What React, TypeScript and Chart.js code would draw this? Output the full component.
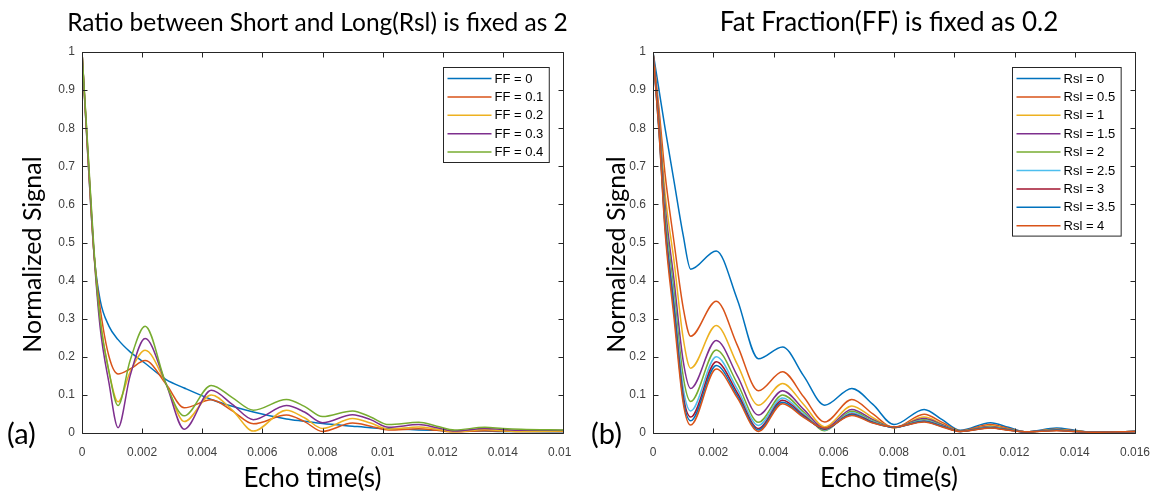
import React, { useEffect, useRef } from "react";
import { Chart, registerables } from "chart.js";

Chart.register(...registerables);

// ---------- data ----------
const LEFT_T = [0, 0.0002, 0.0004, 0.0006, 0.0009, 0.0012, 0.0016, 0.0021, 0.0028, 0.0034, 0.0043, 0.005, 0.0057, 0.0068, 0.0074, 0.008, 0.009, 0.0096, 0.0102, 0.0112, 0.0118, 0.0124, 0.0134, 0.014, 0.0146, 0.016];
const FF_0 = [1, 0.72, 0.47, 0.35, 0.28, 0.245, 0.213, 0.183, 0.14, 0.118, 0.088, 0.07, 0.055, 0.037, 0.031, 0.025, 0.018, 0.014, 0.011, 0.008, 0.007, 0.006, 0.005, 0.004, 0.004, 0.003];
const FF_01 = [1, 0.72, 0.47, 0.33, 0.2, 0.155, 0.168, 0.19, 0.128, 0.066, 0.087, 0.058, 0.024, 0.047, 0.03, 0.004, 0.026, 0.018, 0.008, 0.011, 0.007, 0.003, 0.006, 0.005, 0.004, 0.004];
const FF_02 = [1, 0.73, 0.47, 0.3, 0.16, 0.082, 0.16, 0.217, 0.128, 0.03, 0.1, 0.06, 0.005, 0.06, 0.04, 0.012, 0.038, 0.026, 0.01, 0.016, 0.01, 0.003, 0.009, 0.006, 0.004, 0.005];
const FF_03 = [1, 0.73, 0.47, 0.28, 0.13, 0.014, 0.15, 0.248, 0.128, 0.01, 0.112, 0.075, 0.035, 0.072, 0.055, 0.027, 0.048, 0.035, 0.015, 0.022, 0.014, 0.005, 0.012, 0.009, 0.007, 0.007];
const FF_04 = [1, 0.74, 0.48, 0.3, 0.16, 0.072, 0.19, 0.28, 0.128, 0.045, 0.125, 0.093, 0.06, 0.088, 0.07, 0.043, 0.058, 0.042, 0.022, 0.028, 0.018, 0.008, 0.015, 0.012, 0.01, 0.008];
const LEFT_LABELS = ["FF = 0", "FF = 0.1", "FF = 0.2", "FF = 0.3", "FF = 0.4"];

const RIGHT_T = [0, 0.0002, 0.0004, 0.0007, 0.001, 0.00125, 0.0021, 0.0028, 0.0035, 0.0043, 0.005, 0.0057, 0.0066, 0.0073, 0.008, 0.009, 0.0096, 0.0102, 0.0112, 0.0118, 0.0124, 0.0134, 0.014, 0.0146, 0.016];
const RSL_0 = [1, 0.9, 0.8, 0.66, 0.52, 0.43, 0.478, 0.35, 0.195, 0.226, 0.15, 0.073, 0.117, 0.075, 0.022, 0.062, 0.035, 0.007, 0.027, 0.015, 0.003, 0.013, 0.007, 0.002, 0.004];
const RSL_05 = [1, 0.85, 0.68, 0.5, 0.33, 0.254, 0.346, 0.23, 0.111, 0.161, 0.095, 0.029, 0.088, 0.05, 0.013, 0.049, 0.028, 0.006, 0.022, 0.012, 0.003, 0.01, 0.006, 0.002, 0.004];
const RSL_1 = [1, 0.83, 0.63, 0.45, 0.25, 0.17, 0.282, 0.18, 0.073, 0.13, 0.075, 0.016, 0.071, 0.04, 0.014, 0.042, 0.024, 0.005, 0.019, 0.01, 0.003, 0.009, 0.005, 0.002, 0.004];
const RSL_15 = [1, 0.82, 0.6, 0.4, 0.19, 0.117, 0.243, 0.15, 0.047, 0.111, 0.062, 0.012, 0.062, 0.035, 0.015, 0.038, 0.022, 0.005, 0.017, 0.009, 0.003, 0.008, 0.005, 0.002, 0.004];
const RSL_2 = [1, 0.81, 0.58, 0.37, 0.15, 0.083, 0.218, 0.13, 0.028, 0.1, 0.055, 0.006, 0.057, 0.032, 0.015, 0.035, 0.02, 0.005, 0.016, 0.009, 0.003, 0.008, 0.005, 0.002, 0.004];
const RSL_25 = [1, 0.8, 0.56, 0.35, 0.12, 0.058, 0.2, 0.115, 0.02, 0.092, 0.05, 0.008, 0.053, 0.03, 0.015, 0.033, 0.019, 0.004, 0.015, 0.008, 0.003, 0.007, 0.004, 0.002, 0.004];
const RSL_3 = [1, 0.8, 0.55, 0.33, 0.1, 0.042, 0.187, 0.105, 0.012, 0.086, 0.046, 0.01, 0.05, 0.028, 0.015, 0.031, 0.018, 0.004, 0.014, 0.008, 0.003, 0.007, 0.004, 0.002, 0.004];
const RSL_35 = [1, 0.79, 0.54, 0.32, 0.09, 0.032, 0.177, 0.098, 0.008, 0.081, 0.043, 0.012, 0.048, 0.027, 0.015, 0.03, 0.017, 0.004, 0.014, 0.008, 0.003, 0.007, 0.004, 0.002, 0.004];
const RSL_4 = [1, 0.79, 0.53, 0.3, 0.08, 0.021, 0.168, 0.092, 0.004, 0.077, 0.041, 0.013, 0.046, 0.026, 0.016, 0.029, 0.016, 0.004, 0.013, 0.007, 0.003, 0.006, 0.004, 0.002, 0.004];
const RIGHT_LABELS = ["Rsl = 0", "Rsl = 0.5", "Rsl = 1", "Rsl = 1.5", "Rsl = 2", "Rsl = 2.5", "Rsl = 3", "Rsl = 3.5", "Rsl = 4"];

const X_TICKS = [0, 0.002, 0.004, 0.006, 0.008, 0.01, 0.012, 0.014, 0.016];
const X_TICK_LABELS = ["0", "0.002", "0.004", "0.006", "0.008", "0.01", "0.012", "0.014", "0.016"];
const Y_TICKS = [0, 0.1, 0.2, 0.3, 0.4, 0.5, 0.6, 0.7, 0.8, 0.9, 1];
const Y_TICK_LABELS = ["0", "0.1", "0.2", "0.3", "0.4", "0.5", "0.6", "0.7", "0.8", "0.9", "1"];

const COLORS = ["#0072BD", "#D95319", "#EDB120", "#7E2F8E", "#77AC30", "#4DBEEE", "#A2142F", "#0072BD", "#D95319"];

const TITLE_FONT = 'Lato, "Open Sans", sans-serif';
const TICK_FONT = '"Liberation Sans", Arial, sans-serif';

type PanelCfg = {
  title: string;
  titleSize: number;
  titleDx: number;
  xTitleDx: number;
  tag: string;
  tagX: number;
  yTitleX: number;
  labels: string[];
  labelClipX: number;
};

const framePlugin = {
  id: "frame",
  afterDraw(chart: any) {
    const cfg: PanelCfg = chart.options.plugins.frame;
    const { ctx, chartArea: a } = chart;
    const xs = chart.scales.x;
    const ys = chart.scales.y;
    ctx.save();
    // box
    ctx.strokeStyle = "#262626";
    ctx.lineWidth = 1;
    const L = Math.round(a.left) + 0.5;
    const R = Math.round(a.right) + 0.5;
    const T = Math.round(a.top) + 0.5;
    const B = Math.round(a.bottom) + 0.5;
    ctx.beginPath();
    ctx.rect(L, T, R - L, B - T);
    ctx.stroke();
    // inward ticks
    const tl = 5;
    ctx.beginPath();
    X_TICKS.forEach((v) => {
      const px = Math.round(xs.getPixelForValue(v)) + 0.5;
      ctx.moveTo(px, B);
      ctx.lineTo(px, B - tl);
      ctx.moveTo(px, T);
      ctx.lineTo(px, T + tl);
    });
    Y_TICKS.forEach((v) => {
      const py = Math.round(ys.getPixelForValue(v)) + 0.5;
      ctx.moveTo(L, py);
      ctx.lineTo(L + tl, py);
      ctx.moveTo(R, py);
      ctx.lineTo(R - tl, py);
    });
    ctx.stroke();

    // tick labels
    ctx.fillStyle = "#404040";
    ctx.font = `12px ${TICK_FONT}`;
    ctx.textBaseline = "middle";
    ctx.textAlign = "right";
    Y_TICKS.forEach((v, i) => {
      ctx.fillText(Y_TICK_LABELS[i], a.left - 7, ys.getPixelForValue(v));
    });
    ctx.save();
    ctx.beginPath();
    ctx.rect(0, 0, cfg.labelClipX, chart.height);
    ctx.clip();
    ctx.textAlign = "center";
    X_TICKS.forEach((v, i) => {
      ctx.fillText(X_TICK_LABELS[i], xs.getPixelForValue(v), 453);
    });
    ctx.restore();

    // legend
    const rowH = 18.4;
    ctx.font = `13px ${TICK_FONT}`;
    let maxW = 0;
    cfg.labels.forEach((s) => (maxW = Math.max(maxW, ctx.measureText(s).width)));
    const boxW = 4 + 44 + 3 + maxW + 6;
    const boxH = cfg.labels.length * rowH + 3;
    const bx = Math.round(a.right - 14 - boxW) + 0.5;
    const by = Math.round(a.top + 15) + 0.5;
    ctx.fillStyle = "#ffffff";
    ctx.fillRect(bx, by, boxW, boxH);
    ctx.strokeStyle = "#262626";
    ctx.lineWidth = 1;
    ctx.strokeRect(bx, by, boxW, boxH);
    ctx.textAlign = "left";
    ctx.textBaseline = "middle";
    cfg.labels.forEach((s, i) => {
      const cy = by + 11 + i * rowH;
      ctx.strokeStyle = COLORS[i];
      ctx.lineWidth = 1.5;
      ctx.beginPath();
      ctx.moveTo(bx + 4, cy);
      ctx.lineTo(bx + 48, cy);
      ctx.stroke();
      ctx.fillStyle = "#000000";
      ctx.fillText(s, bx + 51, cy + 0.5);
    });

    // title
    ctx.fillStyle = "#000000";
    ctx.textAlign = "center";
    ctx.textBaseline = "middle";
    ctx.font = `${cfg.titleSize}px ${TITLE_FONT}`;
    ctx.fillText(cfg.title, (a.left + a.right) / 2 + cfg.titleDx, 23);
    // x title
    ctx.font = `26px ${TITLE_FONT}`;
    ctx.fillText("Echo time(s)", (a.left + a.right) / 2 + cfg.xTitleDx, 479);
    // y title
    ctx.save();
    ctx.font = `25px ${TITLE_FONT}`;
    ctx.translate(cfg.yTitleX, (a.top + a.bottom) / 2 + 12);
    ctx.rotate(-Math.PI / 2);
    ctx.fillText("Normalized Signal", 0, 0);
    ctx.restore();
    // tag
    ctx.textAlign = "left";
    ctx.font = `29px ${TITLE_FONT}`;
    ctx.fillText(cfg.tag, cfg.tagX, 435);
    ctx.restore();
  },
};

function makeConfig(
  t: number[],
  series: number[][],
  labels: string[],
  cfg: PanelCfg,
  width: number,
  areaLeft: number,
  areaRight: number
) {
  const n = series.length;
  return {
    type: "line" as const,
    data: {
      datasets: series.map((vals, i) => ({
        label: labels[i],
        data: t.map((x, j) => ({ x, y: vals[j] })),
        borderColor: COLORS[i],
        backgroundColor: COLORS[i],
        borderWidth: 1.5,
        pointRadius: 0,
        fill: false,
        cubicInterpolationMode: "monotone" as const,
        order: n - i,
      })),
    },
    options: {
      responsive: false,
      animation: false as const,
      events: [],
      layout: { padding: { left: 0, right: width - areaRight, top: 52, bottom: 0 } },
      plugins: {
        legend: { display: false },
        tooltip: { enabled: false },
        title: { display: false },
        frame: cfg,
      },
      scales: {
        x: {
          type: "linear" as const,
          min: 0,
          max: 0.016,
          grid: { display: false, drawTicks: false },
          border: { display: false },
          afterBuildTicks: (s: any) => {
            s.ticks = X_TICKS.map((v) => ({ value: v }));
          },
          afterFit: (s: any) => {
            s.height = 496 - 433;
            s.paddingLeft = 0;
            s.paddingRight = 0;
          },
          ticks: { display: false },
        },
        y: {
          type: "linear" as const,
          min: 0,
          max: 1,
          grid: { display: false, drawTicks: false },
          border: { display: false },
          afterBuildTicks: (s: any) => {
            s.ticks = Y_TICKS.map((v) => ({ value: v }));
          },
          afterFit: (s: any) => {
            s.width = areaLeft;
            s.paddingTop = 0;
            s.paddingBottom = 0;
          },
          ticks: { display: false },
        },
      },
    },
    plugins: [framePlugin],
  };
}

const LEFT_W = 583;
const RIGHT_X = 583;
const RIGHT_W = 584;

export default function App() {
  const leftRef = useRef<HTMLCanvasElement | null>(null);
  const rightRef = useRef<HTMLCanvasElement | null>(null);

  useEffect(() => {
    const left = new Chart(
      leftRef.current as HTMLCanvasElement,
      makeConfig(
        LEFT_T,
        [FF_0, FF_01, FF_02, FF_03, FF_04],
        LEFT_LABELS,
        {
          title: "Ratio between Short and Long(Rsl) is fixed as 2",
          titleSize: 24.5,
          titleDx: -5,
          xTitleDx: -10,
          tag: "(a)",
          tagX: 7,
          yTitleX: 33,
          labels: LEFT_LABELS,
          labelClipX: 571,
        },
        LEFT_W,
        82,
        563
      ) as any
    );
    const right = new Chart(
      rightRef.current as HTMLCanvasElement,
      makeConfig(
        RIGHT_T,
        [RSL_0, RSL_05, RSL_1, RSL_15, RSL_2, RSL_25, RSL_3, RSL_35, RSL_4],
        RIGHT_LABELS,
        {
          title: "Fat Fraction(FF) is fixed as 0.2",
          titleSize: 26,
          titleDx: -5,
          xTitleDx: -5,
          tag: "(b)",
          tagX: 8,
          yTitleX: 34,
          labels: RIGHT_LABELS,
          labelClipX: RIGHT_W,
        },
        RIGHT_W,
        70,
        552
      ) as any
    );
    return () => {
      left.destroy();
      right.destroy();
    };
  }, []);

  return (
    <div
      style={{
        position: "fixed",
        left: 0,
        top: 0,
        width: 1167,
        height: 496,
        background: "#ffffff",
        overflow: "hidden",
      }}
    >
      <canvas
        ref={leftRef}
        width={LEFT_W}
        height={496}
        style={{ position: "absolute", left: 0, top: 0, width: LEFT_W, height: 496 }}
      />
      <canvas
        ref={rightRef}
        width={RIGHT_W}
        height={496}
        style={{ position: "absolute", left: RIGHT_X, top: 0, width: RIGHT_W, height: 496 }}
      />
    </div>
  );
}
